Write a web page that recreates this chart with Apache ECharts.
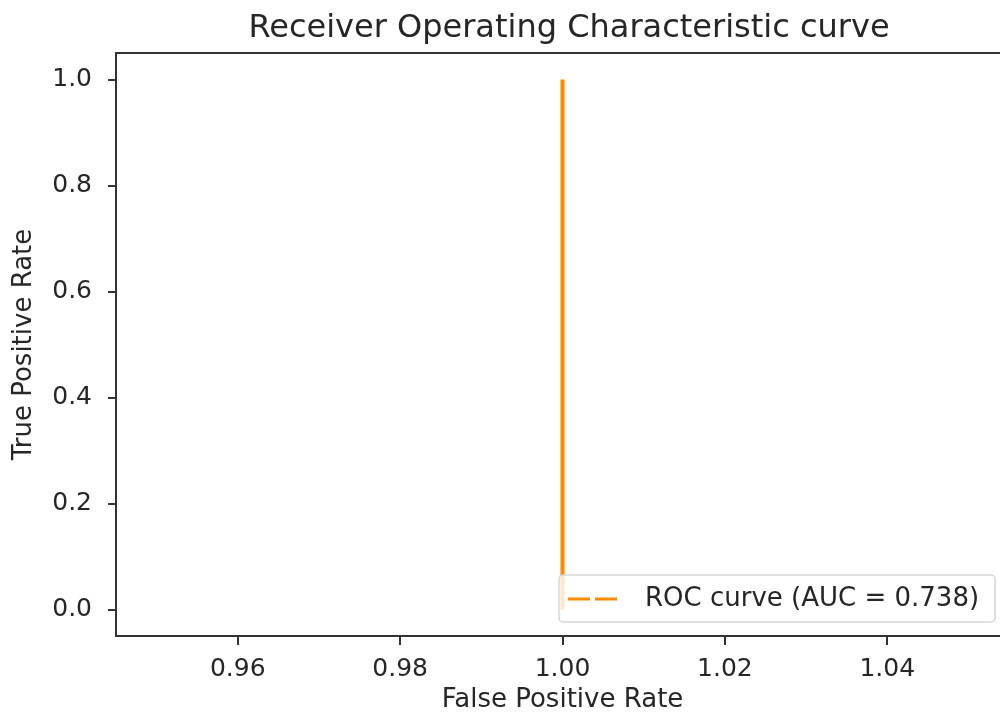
<!DOCTYPE html>
<html>
<head>
<meta charset="utf-8">
<script src="https://cdn.jsdelivr.net/npm/echarts@6/dist/echarts.min.js"></script>
<style>
html,body{margin:0;padding:0;background:#fff;}
#chart{width:1000px;height:720px;}
</style>
</head>
<body>
<div id="chart"></div>
<script>
const titleText = "Receiver Operating Characteristic curve";
const seriesName = "ROC curve (AUC = 0.738)";
const fpr = [1.0, 1.0];
const tpr = [0.0, 1.0];
const xTicks = [0.96, 0.98, 1.00, 1.02, 1.04];
const yTicks = [0.0, 0.2, 0.4, 0.6, 0.8, 1.0];
const xLimits = [0.945, 1.055];
const yLimits = [-0.05, 1.05];

const font = "DejaVu Sans";
const txt = "#262626";
const spine = {show: true, onZero: false, lineStyle: {color: '#333', width: 2}};
const chart = echarts.init(document.getElementById('chart'), null, {renderer: 'canvas'});
chart.setOption({
  animation: false,
  backgroundColor: '#fff',
  title: {
    text: titleText, left: 564, top: 8, textAlign: 'center',
    textStyle: {fontFamily: font, fontSize: 32, fontWeight: 'normal', color: txt}
  },
  grid: {left: 116, top: 53, width: 893, height: 583, containLabel: false, outerBoundsMode: 'none', show: false},
  legend: {
    left: 559, top: 575, width: 436,
    padding: [11, 16, 10, 9],
    backgroundColor: 'rgba(255,255,255,0.8)',
    borderColor: '#d6d6d6', borderWidth: 1.5, borderRadius: 4,
    icon: 'path://M0,0h22v3h-22z M27,0h22v3h-22z',
    symbolKeepAspect: false,
    itemWidth: 49, itemHeight: 3,
    textStyle: {fontFamily: font, fontSize: 26, color: txt, padding: [0, 0, 0, 23]},
    data: [{name: seriesName, itemStyle: {color: '#ff8c00'}}]
  },
  xAxis: [{
    type: 'value', min: xLimits[0], max: xLimits[1], position: 'bottom',
    name: 'False Positive Rate', nameLocation: 'middle', nameGap: 44,
    nameTextStyle: {fontFamily: font, fontSize: 26, color: txt},
    axisLine: spine,
    splitLine: {show: false},
    axisTick: {show: true, customValues: xTicks, length: 9, lineStyle: {color: '#333', width: 2}},
    axisLabel: {customValues: xTicks, margin: 21, fontFamily: font, fontSize: 25, color: txt,
      formatter: v => v.toFixed(2)}
  }, {
    type: 'value', min: xLimits[0], max: xLimits[1], position: 'top',
    axisLine: spine, axisTick: {show: false}, axisLabel: {show: false}, splitLine: {show: false}
  }],
  yAxis: {
    type: 'value', min: yLimits[0], max: yLimits[1],
    name: 'True Positive Rate', nameLocation: 'middle', nameGap: 79,
    nameTextStyle: {fontFamily: font, fontSize: 26, color: txt},
    axisLine: spine,
    splitLine: {show: false},
    axisTick: {show: true, customValues: yTicks, length: 8, lineStyle: {color: '#333', width: 2}},
    axisLabel: {customValues: yTicks, margin: 24, fontFamily: font, fontSize: 25, color: txt,
      formatter: v => v.toFixed(1)}
  },
  series: [{
    name: seriesName, type: 'line',
    data: fpr.map((x, i) => [x, tpr[i]]),
    showSymbol: false, symbol: 'none',
    lineStyle: {color: '#ff8c00', width: 4},
    itemStyle: {color: '#ff8c00'}
  }]
});
</script>
</body>
</html>
